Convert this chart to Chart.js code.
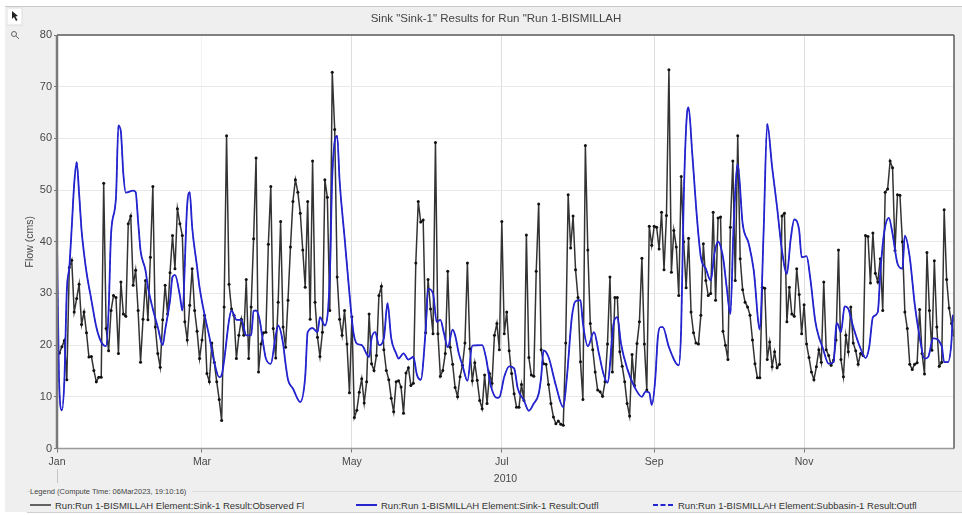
<!DOCTYPE html>
<html>
<head>
<meta charset="utf-8">
<title>Sink-1 results</title>
<script src="https://cdn.jsdelivr.net/npm/chart.js@4"></script>
<style>
    html, body { margin: 0; width: 962px; height: 515px; overflow: hidden; background: #fff; font-family: "Liberation Sans", Arial, sans-serif; }
    #panel { position: absolute; left: 5px; top: 6px; width: 957px; height: 505px; background: #efefef; border-top: 1px solid #c8c8c8; }
    #chartBox { position: absolute; left: 22px; top: 0; }
    #legendHead { position: absolute; left: 30px; top: 487px; font-size: 7.5px; color: #444; background: #efefef; padding-right: 6px; z-index: 2; }
    #legendLine { position: absolute; left: 27px; top: 491px; width: 935px; height: 20px; border-top: 1px solid #dcdcdc; border-bottom: 1px solid #cfcfcf; }
    #legendRow div { position: absolute; top: 500px; font-size: 9.5px; line-height: 11px; color: #333; white-space: nowrap; }
    #legendRow svg { position: absolute; left: -25px; top: 3px; }
    #tools { position: absolute; left: 7px; top: 7px; }
    #jan-mark { position: absolute; left: 57px; top: 469px; width: 1px; height: 14px; background: #c4c4c4; }
</style>
</head>
<body>
<div id="panel"></div>
<div id="legendLine"></div>
<div id="jan-mark"></div>
<div id="legendHead">Legend (Compute Time: 06Mar2023, 19:10:16)</div>
<svg id="tools" width="16" height="36">
    <rect x="0" y="1" width="15" height="17" fill="#fff" stroke="#ddd"/>
    <path d="M5 4 L5 12 L7 10 L9 14 L10.5 13 L8.5 9.5 L11 9 Z" fill="#222"/>
    <circle cx="7" cy="27" r="2.5" fill="none" stroke="#666"/>
    <line x1="9" y1="29" x2="12" y2="32" stroke="#666"/>
</svg>
<div id="chartBox"><canvas id="chart" width="948" height="485"></canvas></div>
<div id="legendRow"></div>

<script>
const titleText = 'Sink "Sink-1" Results for Run "Run 1-BISMILLAH';
const yearLabel = "2010";
const yLabel = "Flow (cms)";

const monthDays = [0, 59, 120, 181, 243, 304];
const monthLabels = ["Jan", "Mar", "May", "Jul", "Sep", "Nov"];
const flowTicks = [0, 10, 20, 30, 40, 50, 60, 70, 80];

const observedName = "Run:Run 1-BISMILLAH Element:Sink-1 Result:Observed Fl";
const outflowName = "Run:Run 1-BISMILLAH Element:Sink-1 Result:Outfl";
const subbasinName = "Run:Run 1-BISMILLAH Element:Subbasin-1 Result:Outfl";

// observed flow, one value per day from 1 Jan
const observedFlow = [
    17.5, 18.5, 19.7, 20.9, 13.3, 35, 36.4, 26.4, 29, 31.8,
    24, 26.4, 22.4, 17.7, 17.8, 15.1, 12.9, 13.8, 13.8, 51.3,
    23.2, 18.9, 26.7, 29.6, 29.2, 18.4, 32.2, 26, 25.6, 43.5,
    45, 31.6, 34.5, 26.7, 16.7, 25, 32.5, 24.9, 37, 50.7,
    23.5, 18.4, 15.7, 24.9, 31.6, 26, 34, 41.2, 34.8, 46.4,
    43.5, 41.2, 24.5, 21, 27.7, 34.8, 26.7, 22.7, 17.4, 21,
    25.8, 14.5, 12.9, 20.4, 16.7, 12.9, 9.5, 5.4, 27.4, 60.5,
    31.8, 27, 25.8, 17.4, 21.9, 25, 21.9, 32.7, 17.4, 27.4,
    40.6, 56.2, 14.8, 20.2, 22.4, 22.5, 39.5, 50.7, 23.2, 17.5,
    28.3, 43.9, 23.5, 19.6, 28.7, 39, 47.8, 52, 49.6, 45.5,
    38.4, 31.2, 47.8, 25, 55.6, 28.3, 21.5, 17.8, 22.5, 52,
    48.6, 26.7, 72.8, 61.7, 33.2, 25, 21.9, 26.7, 20.2, 10.8,
    25.5, 6, 7.4, 10.9, 13.5, 8.8, 12.9, 26, 16.4, 15.1,
    18, 29.6, 31.4, 19.1, 15.1, 13.3, 9.7, 7.1, 12.9, 13.1,
    11.9, 6.8, 14.6, 15.6, 12.2, 12.6, 35.9, 47.8, 43.8, 44.2,
    22.4, 32.7, 27, 22.2, 59.2, 22.2, 14, 15.1, 18.4, 34.3,
    19.6, 16.3, 11.8, 10, 13.9, 16.1, 20.4, 35.9, 19.3, 13.1,
    16.6, 13.2, 9.3, 7.7, 14.2, 8.7, 14.5, 12.6, 21.9, 24.2,
    19.1, 43.9, 22.2, 26.4, 18.9, 14.5, 10.6, 8, 8, 12.4,
    9.3, 41.3, 17.6, 14.2, 14, 34.3, 47.3, 19.1, 16.4, 16.3,
    12.4, 8.7, 6.1, 4.8, 5.3, 4.7, 4.5, 20.4, 49.1, 38.8,
    45, 34.6, 29.2, 16.8, 9.5, 58.6, 38.4, 24.2, 19.1, 14.8,
    11.3, 11, 10.1, 12.9, 20.2, 33.2, 14.8, 29.2, 29.2, 18.7,
    15.9, 12.9, 8.7, 6.3, 18.2, 12.2, 20.3, 24.5, 36.8, 20.2,
    11.3, 43, 39.3, 43, 42.8, 38.6, 45.7, 34.6, 45.1, 73.3,
    34.1, 42.2, 39, 29.6, 52.6, 40, 31.1, 40.7, 26.4, 22.4,
    20.4, 20.2, 25.8, 39.6, 32.5, 29.6, 30, 45.7, 28.7, 44.6,
    44.8, 22.7, 20, 17.2, 42.8, 55.6, 32.5, 60.5, 36.7, 30.7,
    28.3, 27.4, 25.8, 21, 16.4, 13.7, 13.7, 31.2, 31, 17.2,
    20.6, 15.8, 18.7, 15.6, 16.3, 45, 45.5, 24.5, 31.2, 26,
    25.6, 34.8, 29.8, 22.2, 27.8, 20.2, 17.6, 14.8, 13.3, 15.8,
    19.1, 16.7, 32.2, 19.1, 18, 16.1, 17.1, 21, 38.4, 17.2,
    13.9, 21.9, 18.7, 27.4, 20.4, 18.9, 16.3, 18.4, 18, 41.2,
    41, 32, 41.7, 33.9, 32.2, 36.7, 26.7, 49.6, 50.2, 55.6,
    54.3, 38.3, 49.1, 49, 40, 26.4, 23.2, 16.3, 15.3, 16.3,
    16.6, 26.9, 18.4, 14.4, 37.9, 26.7, 19, 36.3, 23.5, 15.9,
    16.7, 46.2, 32.7, 27.2, 24.2, 21.9
];

const outflowDays = [
    0, 0.8, 2, 3, 4, 5, 6, 7, 8, 9, 10, 11, 12, 14, 16, 18, 20, 21, 22, 24,
    25, 26, 27, 28, 31, 32, 33, 34, 36, 37, 39, 41, 43, 44, 46, 47, 48, 50, 51, 53,
    54, 55, 57, 58, 60, 62, 64, 66, 67, 68, 70, 71, 72, 73, 75, 77, 79, 80, 81, 82.5,
    84, 85, 87, 89, 90, 92, 93, 94, 96, 99, 101, 102, 104, 106, 107, 109, 111, 112, 114, 115,
    117, 119, 120.6, 122, 124, 127, 128, 129.5, 131, 133, 134.5, 136, 138, 139, 141, 143, 145, 146.5, 148, 150,
    151, 153, 154.5, 156, 157.5, 159, 161, 162, 163.5, 165, 167, 169, 173, 174.5, 176.5, 179, 180, 182, 184, 186,
    187.5, 190, 192, 194, 196, 197, 198, 200, 203, 206, 207.5, 209.5, 211, 213, 214, 216, 218.5, 220.5, 222.5, 224,
    226.5, 228, 229.5, 232, 235, 238, 239.5, 241, 242, 243.4, 244.5, 245.5, 246.5, 249, 253, 254, 255, 256.5, 257, 258.5,
    260.5, 262, 264, 266, 267.5, 269, 271, 272.5, 274, 275.3, 277, 279, 281.5, 283.5, 286, 287.5, 289, 291, 293, 295,
    297, 298.5, 300, 302, 303, 305, 306.5, 308.5, 310, 311.5, 314, 316, 317, 317.5, 319, 320.5, 322, 324, 327, 329,
    330.5, 332, 334, 335, 336.5, 338.5, 340, 342, 344, 345, 347, 349, 351, 353, 354.5, 356.5, 360, 361, 362.5, 364,
    364.5, 365
];
const outflowFlow = [
    40, 13.8, 7.4, 13.2, 30.6, 35, 42.8, 51.2, 55.4, 49.3, 42.2, 37.7, 34.1, 28.7, 23.5, 20.6, 19.8, 26.7, 41.5, 48.6,
    62.5, 61.2, 53.1, 49.5, 49.9, 49.6, 44, 38.3, 34.5, 31.2, 27, 23.5, 20, 22.9, 28.7, 33.2, 33.6, 29.6, 26.7, 47.3,
    49.6, 42.8, 35.1, 31.2, 26, 21.6, 16.7, 13.8, 14.2, 17, 24.8, 26.7, 25.8, 24.9, 24.9, 21.9, 21.9, 26.6, 26.7, 24.8,
    20, 17.4, 16.4, 21.9, 23.8, 20.3, 16.4, 13.3, 11.6, 9, 13.9, 22.5, 23.3, 22.5, 25.4, 23.8, 33.2, 52.5, 60.5, 51.8,
    40.9, 30, 22.5, 20.3, 20, 17.7, 21.3, 22.5, 20, 21.3, 28.1, 21.3, 18.4, 17.4, 18.4, 17.2, 17.7, 14.2, 13.3, 22.9,
    30.9, 30, 24.5, 24.9, 22.2, 19.6, 23, 21.9, 18.4, 16.1, 13.1, 19.9, 20, 17.7, 12.2, 9.8, 9.9, 13.9, 15.9, 15.5,
    11.6, 9.3, 7.3, 8.7, 10.6, 13.8, 19, 17.7, 12.2, 8, 13.9, 25.4, 28.5, 28.7, 24.2, 19.8, 22.5, 18.4, 14.2, 12.7,
    24.2, 25.4, 20.3, 15.5, 11.9, 10, 11, 10.8, 8.4, 13.2, 21.6, 23.5, 23.5, 19.6, 16.1, 23.5, 48, 65.4, 66, 57,
    44.1, 37, 34.8, 32.5, 37.7, 40, 37, 31.2, 26, 42.8, 55, 43.5, 39.6, 34.5, 23, 41.5, 62.8, 54.4, 46.7, 38.3,
    33.8, 40.3, 44.3, 42.2, 37, 37.2, 33, 24.8, 21.6, 19.6, 16.4, 16.7, 23.5, 24.2, 22.5, 27.5, 27, 23.5, 19.3, 17.5,
    19.6, 25.4, 26.4, 33.8, 41.5, 44.6, 41.5, 35.8, 34.8, 41.2, 37, 28, 21.6, 17.4, 17.7, 21.3, 19.8, 16.7, 16.7, 20.9,
    25.8, 24.5
];

const textColor = "#484848";
const gridColor = "#e8e8e8";

function points(xs, ys) {
    return ys.map((y, i) => ({x: xs[i], y}));
}

// white plot background, frame on top, title nudged over to where the app puts it
const framePlugin = {
    id: "plotFrame",
    afterLayout(chart) {
        chart.titleBlock.left += 16;
    },
    beforeDraw(chart) {
        let a = chart.chartArea;
        chart.ctx.fillStyle = "#fff";
        chart.ctx.fillRect(a.left, a.top, a.right - a.left, a.bottom - a.top);
    },
    afterDatasetsDraw(chart) {
        let a = chart.chartArea;
        let ctx = chart.ctx;
        let side = (color, width, x1, y1, x2, y2) => {
            ctx.strokeStyle = color;
            ctx.lineWidth = width;
            ctx.beginPath();
            ctx.moveTo(x1, y1);
            ctx.lineTo(x2, y2);
            ctx.stroke();
        };
        ctx.save();
        side("#9a9a9a", 1.5, a.left, a.bottom, a.right, a.bottom);
        side("#5c5c5c", 1.5, a.left, a.top, a.right, a.top);
        side("#5c5c5c", 1.5, a.right, a.top, a.right, a.bottom);
        side("#7a7a7a", 2.5, a.left, a.top, a.left, a.bottom);
        ctx.restore();
    }
};

let ctx = document.getElementById("chart").getContext("2d");
let chart = new Chart(ctx, {
    type: "line",
    data: {
        datasets: [
            {
                label: observedName,
                data: points(observedFlow.map((_, i) => i), observedFlow),
                borderColor: "#333",
                backgroundColor: "#111",
                borderWidth: 1.5,
                pointRadius: 1.5,
                pointBorderWidth: 0,
                tension: 0,
                order: 3
            },
            {
                label: outflowName,
                data: points(outflowDays, outflowFlow),
                borderColor: "#2525cf",
                borderWidth: 1.8,
                pointRadius: 0,
                cubicInterpolationMode: "monotone",
                order: 2
            },
            {
                label: subbasinName,
                data: points(outflowDays, outflowFlow),
                borderColor: "#2525cf",
                borderWidth: 1,
                borderDash: [5, 3],
                pointRadius: 0,
                cubicInterpolationMode: "monotone",
                order: 1
            }
        ]
    },
    options: {
        responsive: false,
        animation: false,
        layout: {padding: {right: 16}},
        plugins: {
            legend: {display: false},
            tooltip: {enabled: false},
            title: {
                display: true,
                text: titleText,
                color: "#444",
                font: {family: "Liberation Sans", size: 11.5, weight: "normal"},
                padding: {top: 11.5, bottom: 9.7}
            }
        },
        scales: {
            x: {
                type: "linear",
                min: 0,
                max: 365,
                afterBuildTicks(scale) {
                    scale.ticks = monthDays.map(value => ({value}));
                },
                afterFit(scale) {
                    scale.height = 36.5;
                },
                ticks: {
                    autoSkip: false,
                    maxRotation: 0,
                    color: textColor,
                    font: {family: "Liberation Sans", size: 10.5},
                    padding: 3,
                    callback: value => monthLabels[monthDays.indexOf(value)]
                },
                grid: {
                    color: c => (c.index === 1 ? "#f3f3f3" : "#dedede"),
                    tickColor: "#777",
                    tickLength: 4
                },
                border: {display: false},
                title: {
                    display: true,
                    text: yearLabel,
                    color: textColor,
                    font: {family: "Liberation Sans", size: 10.5},
                    padding: {top: 2, bottom: 0}
                }
            },
            y: {
                min: 0,
                max: 80,
                afterBuildTicks(scale) {
                    scale.ticks = flowTicks.map(value => ({value}));
                },
                afterFit(scale) {
                    scale.width = 35;
                },
                ticks: {
                    color: textColor,
                    font: {family: "Liberation Sans", size: 11},
                    padding: 2
                },
                grid: {color: gridColor, tickColor: "#777", tickLength: 3},
                border: {display: false},
                title: {
                    display: true,
                    text: yLabel,
                    color: textColor,
                    font: {family: "Liberation Sans", size: 10.5},
                    padding: {top: 2, bottom: 0}
                }
            }
        }
    },
    plugins: [framePlugin]
});

// legend row sits under the chart, same names as the datasets
function renderLegend() {
    let row = document.getElementById("legendRow");
    let lefts = [55, 381, 678];
    chart.data.datasets.forEach((ds, idx) => {
        let item = document.createElement("div");
        item.style.left = `${lefts[idx]}px`;
        let dash = ds.borderDash ? `stroke-dasharray="5 2.5"` : "";
        let sw = idx === 0 ? 1.5 : 2;
        item.innerHTML = `<svg width="21" height="4"><line x1="0" y1="2" x2="21" y2="2" stroke="${ds.borderColor}" stroke-width="${sw}" ${dash}/></svg>${ds.label}`;
        row.appendChild(item);
    });
}
renderLegend();
</script>
</body>
</html>
